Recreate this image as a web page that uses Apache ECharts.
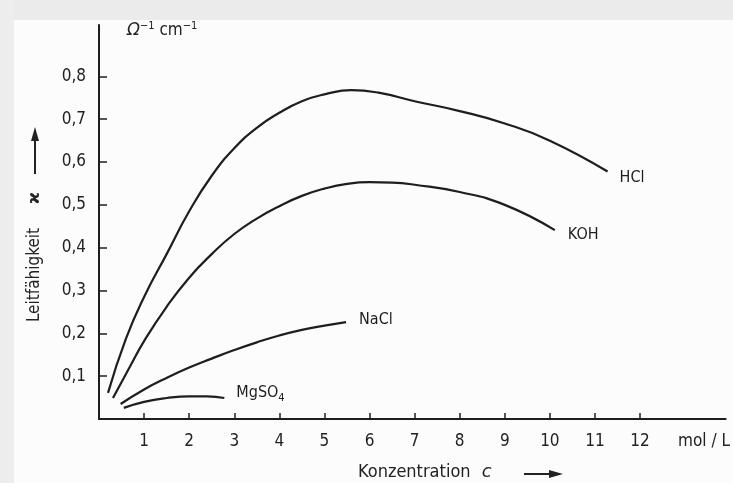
<!DOCTYPE html>
<html>
<head>
<meta charset="utf-8">
<script src="https://cdn.jsdelivr.net/npm/echarts@6/dist/echarts.min.js"></script>
<style>html,body{margin:0;padding:0;background:#fff}#c{width:733px;height:483px}</style>
</head>
<body>
<div id="c"></div>
<script>
// ---- data ----
const hclX = [0.2, 0.6, 1.0, 1.5, 2.0, 2.5, 3.0, 3.5, 4.0, 4.5, 5.0, 5.6, 6.2, 7.0, 8.0, 9.0, 10.0, 11.28];
const hclY = [0.061, 0.188, 0.285, 0.385, 0.485, 0.568, 0.632, 0.68, 0.715, 0.742, 0.758, 0.768, 0.762, 0.742, 0.719, 0.69, 0.65, 0.578];
const kohX = [0.31, 0.7, 1.0, 1.5, 2.0, 2.5, 3.0, 3.5, 4.0, 4.5, 5.0, 5.5, 6.0, 6.5, 7.0, 8.0, 9.0, 10.11];
const kohY = [0.049, 0.125, 0.182, 0.262, 0.33, 0.385, 0.432, 0.468, 0.497, 0.521, 0.538, 0.549, 0.553, 0.552, 0.547, 0.53, 0.5, 0.441];
const naclX = [0.48, 1.0, 1.5, 2.0, 2.5, 3.0, 3.5, 4.0, 4.5, 5.0, 5.48];
const naclY = [0.035, 0.069, 0.096, 0.12, 0.141, 0.161, 0.179, 0.195, 0.208, 0.218, 0.226];
const mgso4X = [0.55, 1.0, 1.5, 2.0, 2.4, 2.78];
const mgso4Y = [0.026, 0.04, 0.049, 0.053, 0.053, 0.049];
const xTicks = [1, 2, 3, 4, 5, 6, 7, 8, 9, 10, 11, 12];
const yTicks = [0.1, 0.2, 0.3, 0.4, 0.5, 0.6, 0.7, 0.8];
const unitX = 13.42; // position of the "mol / L" label on the x scale

const FONT = "'Liberation Sans Narrow', 'DejaVu Sans Condensed', sans-serif";
const INK = '#1e1e1e';

const pairs = (xs, ys) => xs.map((x, i) => [x, ys[i]]);

function curve(name, xs, ys, offset, rich) {
  return {
    type: 'line', name: name, data: pairs(xs, ys), smooth: 0.5,
    showSymbol: false, silent: true,
    lineStyle: { color: INK, width: 2.2 },
    endLabel: {
      show: true, formatter: rich || name, offset: offset,
      color: INK, fontFamily: FONT, fontSize: 16,
      rich: { sub: { fontFamily: FONT, fontSize: 11, color: INK, padding: [10, 0, 0, 0] } }
    }
  };
}

const chart = echarts.init(document.getElementById('c'), null, { renderer: 'canvas' });
chart.setOption({
  backgroundColor: '#fcfcfc',
  animation: false,
  grid: { left: 99, top: 25, right: 4, bottom: 64 },
  xAxis: {
    type: 'value', min: 0, max: 13.9,
    axisLine: { show: true, lineStyle: { color: INK, width: 2 } },
    axisTick: { show: true, inside: true, length: 6, customValues: xTicks, lineStyle: { color: INK, width: 1.5 } },
    axisLabel: {
      customValues: xTicks.concat([unitX]), margin: 14,
      formatter: v => (v > 12.5 ? 'mol / L' : String(v)),
      color: '#222', fontFamily: FONT, fontSize: 17
    },
    splitLine: { show: false }
  },
  yAxis: {
    type: 'value', min: 0, max: 0.92,
    axisLine: { show: true, lineStyle: { color: INK, width: 2 } },
    axisTick: { show: true, inside: true, length: 8, customValues: yTicks, lineStyle: { color: INK, width: 1.5 } },
    axisLabel: {
      customValues: yTicks, margin: 13,
      formatter: v => v.toFixed(1).replace('.', ','),
      color: '#222', fontFamily: FONT, fontSize: 17
    },
    splitLine: { show: false }
  },
  series: [
    curve('HCl', hclX, hclY, [4, 6]),
    curve('KOH', kohX, kohY, [5, 5]),
    curve('NaCl', naclX, naclY, [5, -2]),
    curve('MgSO4', mgso4X, mgso4Y, [4, -5], 'MgSO{sub|4}')
  ],
  graphic: [
    { type: 'rect', z: -10, shape: { x: 0, y: 0, width: 733, height: 20 }, style: { fill: '#ebebeb' } },
    { type: 'rect', z: -10, shape: { x: 0, y: 0, width: 14, height: 483 }, style: { fill: '#ededed' } },
    {
      type: 'text', x: 127, y: 31,
      style: {
        text: '{o|Ω}{s|−1} cm{s|−1}', verticalAlign: 'middle', fill: '#222',
        font: "17px " + FONT,
        rich: {
          o: { fontFamily: 'DejaVu Sans', fontStyle: 'italic', fontSize: 17, fill: '#222' },
          s: { fontFamily: FONT, fontSize: 11, fill: '#222', padding: [0, 0, 10, 0] }
        }
      }
    },
    {
      type: 'text', x: 35, y: 275, rotation: Math.PI / 2,
      style: { text: 'Leitfähigkeit', align: 'center', verticalAlign: 'middle', fill: '#222', font: '17px ' + FONT }
    },
    {
      type: 'text', x: 35, y: 198, rotation: Math.PI / 2,
      style: { text: 'ϰ', align: 'center', verticalAlign: 'middle', fill: '#222', font: 'bold 16px DejaVu Sans' }
    },
    { type: 'line', shape: { x1: 35, y1: 174, x2: 35, y2: 138 }, style: { stroke: '#222', lineWidth: 2 } },
    { type: 'polygon', shape: { points: [[35, 127], [31, 141], [39, 141]] }, style: { fill: '#222' } },
    {
      type: 'text', x: 358, y: 472,
      style: {
        text: 'Konzentration {i|c}', verticalAlign: 'middle', fill: '#222', font: '18px ' + FONT,
        rich: { i: { fontFamily: 'DejaVu Sans', fontStyle: 'italic', fontSize: 18, fill: '#222', padding: [0, 0, 0, 6] } }
      }
    },
    { type: 'line', shape: { x1: 524, y1: 474, x2: 551, y2: 474 }, style: { stroke: '#222', lineWidth: 2 } },
    { type: 'polygon', shape: { points: [[563, 474], [549, 470], [549, 478]] }, style: { fill: '#222' } }
  ]
});
</script>
</body>
</html>
